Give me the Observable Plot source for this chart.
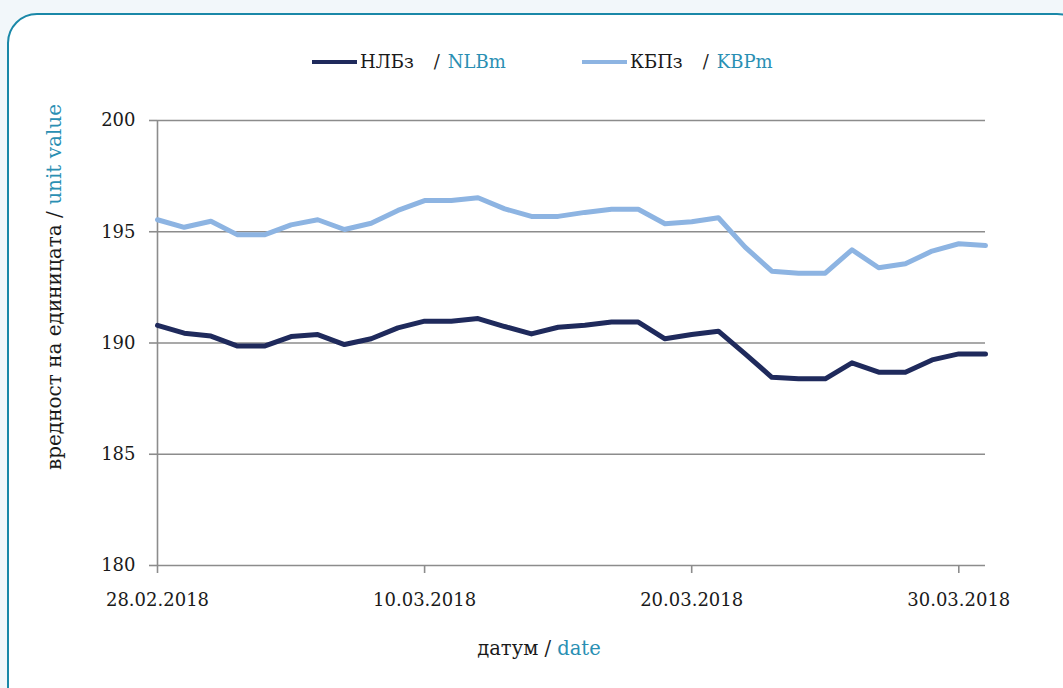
<!DOCTYPE html>
<html><head><meta charset="utf-8">
<script src="https://cdn.jsdelivr.net/npm/d3@7"></script>
<script src="https://cdn.jsdelivr.net/npm/@observablehq/plot@0.6"></script>
<style>
body{margin:0;background:#f2f7fa;overflow:hidden;font-family:"DejaVu Serif",serif;}
#wrap{position:relative;width:1063px;height:688px;overflow:hidden;}
#panel{position:absolute;left:7px;top:13px;width:1080px;height:720px;border:2px solid #1a88a8;border-radius:30px;background:#fff;box-sizing:border-box;}
#legend{position:relative;height:100px;}
.item{position:absolute;top:48px;font-size:18px;line-height:28px;display:flex;align-items:center;white-space:nowrap;color:#1a1a1a}
.sw{width:45px;height:4px;margin-right:3px}
.en{color:#2a8fb3}
#chart{position:relative}
</style></head>
<body><div id="wrap"><div id="panel"></div><div id="legend"></div><div id="chart"></div></div>
<script>
const dates = ["2018-02-28","2018-03-01","2018-03-02","2018-03-03","2018-03-04","2018-03-05","2018-03-06","2018-03-07",
"2018-03-08","2018-03-09","2018-03-10","2018-03-11","2018-03-12","2018-03-13","2018-03-14","2018-03-15",
"2018-03-16","2018-03-17","2018-03-18","2018-03-19","2018-03-20","2018-03-21","2018-03-22","2018-03-23",
"2018-03-24","2018-03-25","2018-03-26","2018-03-27","2018-03-28","2018-03-29","2018-03-30","2018-03-31"];
const nlbm = [190.79,190.44,190.31,189.86,189.86,190.29,190.38,189.93,190.19,190.68,190.98,190.98,191.10,190.74,190.41,190.71,
190.80,190.94,190.94,190.19,190.38,190.53,189.51,188.46,188.39,188.39,189.11,188.69,188.69,189.24,189.51,189.51];
const kbpm = [195.54,195.20,195.47,194.86,194.86,195.31,195.54,195.10,195.38,195.96,196.40,196.40,196.53,196.03,195.69,195.69,
195.87,196.01,196.01,195.36,195.45,195.63,194.31,193.23,193.14,193.14,194.19,193.38,193.56,194.13,194.46,194.38];
const yTicks = [180,185,190,195,200];
const xTicks = ["2018-02-28","2018-03-10","2018-03-20","2018-03-30"];
const xDomain = ["2018-02-28","2018-03-31"];
const series = [
  {bg:"НЛБз", en:"NLBm", color:"#1f2a5c"},
  {bg:"КБПз", en:"KBPm", color:"#8db4e2"}
];

const legend = document.getElementById("legend");
const lefts = [312, 582];
series.forEach((s,i)=>{
  const it = document.createElement("div");
  it.className="item"; it.style.left = lefts[i]+"px";
  it.innerHTML = `<span class="sw" style="background:${s.color}"></span><span>${s.bg}</span><span style="margin-left:20px">/</span><span class="en" style="margin-left:8px">${s.en}</span>`;
  legend.appendChild(it);
});

const data = dates.map((d,i)=>({date:new Date(d), NLBm:nlbm[i], KBPm:kbpm[i]}));
const grey = "#8c8c8c";
const chart = Plot.plot({
  width:1063, height:588, marginTop:20, marginBottom:123, marginLeft:157, marginRight:78,
  style:{fontFamily:"DejaVu Serif, serif", fontSize:"18px", color:"#1a1a1a", background:"transparent", overflow:"visible"},
  x:{type:"utc", domain:xDomain.map(d=>new Date(d))},
  y:{domain:[180,200]},
  marks:[
    Plot.ruleY(yTicks, {stroke:grey, strokeWidth:1.6}),
    Plot.ruleX([new Date(xDomain[0])], {stroke:grey, strokeWidth:1.6}),
    Plot.axisY({ticks:yTicks, tickSize:8, tickPadding:14, stroke:grey, strokeWidth:1.6, fill:"#1a1a1a", label:null}),
    Plot.axisX({ticks:xTicks.map(d=>new Date(d)), tickSize:8, tickPadding:20, stroke:grey, strokeWidth:1.6, fill:"#1a1a1a",
      tickFormat:d3.utcFormat("%d.%m.%Y"), label:null}),
    Plot.lineY(data, {x:"date", y:"KBPm", stroke:series[1].color, strokeWidth:5}),
    Plot.lineY(data, {x:"date", y:"NLBm", stroke:series[0].color, strokeWidth:5})
  ]
});
document.getElementById("chart").appendChild(chart);

const svg = d3.select(chart);
const yl = svg.append("text").attr("transform","translate(54,187) rotate(-90)")
  .attr("text-anchor","middle").attr("dy","0.35em").attr("font-size",20).attr("fill","#1a1a1a");
yl.append("tspan").text("вредност на единицата / ");
yl.append("tspan").attr("fill","#2a8fb3").text("unit value");
const xl = svg.append("text").attr("transform","translate(539,548)")
  .attr("text-anchor","middle").attr("dy","0.35em").attr("font-size",19.5).attr("fill","#1a1a1a");
xl.append("tspan").text("датум / ");
xl.append("tspan").attr("fill","#2a8fb3").text("date");
</script>
</body></html>
